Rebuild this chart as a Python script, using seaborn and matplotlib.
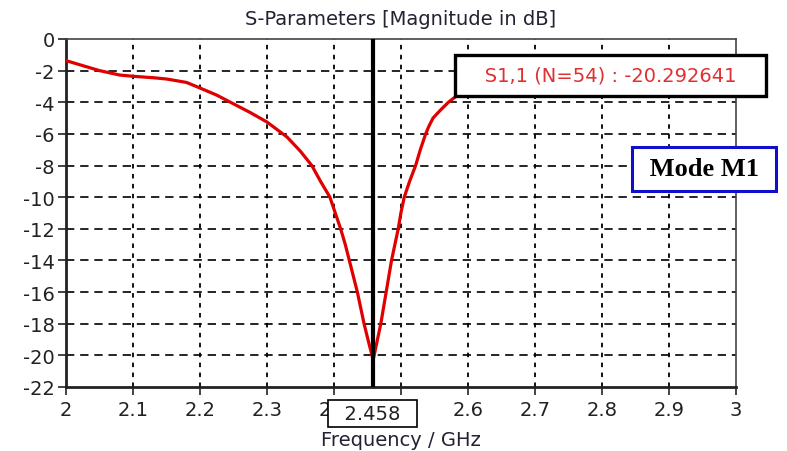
import matplotlib
matplotlib.use("Agg")
import matplotlib.pyplot as plt
import numpy as np
import pandas as pd
import seaborn as sns

# S11 curve (GHz, dB)
freq = [2.00, 2.03, 2.05, 2.08, 2.10, 2.13, 2.15, 2.18, 2.20, 2.225, 2.25, 2.275,
        2.30, 2.33, 2.35, 2.367, 2.38, 2.394, 2.402, 2.41, 2.417, 2.423, 2.429,
        2.435, 2.44, 2.445, 2.452, 2.4586,
        2.465, 2.470, 2.474, 2.478, 2.482, 2.486, 2.491, 2.496, 2.500, 2.505,
        2.513, 2.522, 2.529, 2.537, 2.542, 2.548, 2.559, 2.571, 2.58,
        2.60, 2.65, 2.70, 2.80, 2.90, 3.00]
s11 = [-1.37, -1.75, -2.0, -2.28, -2.36, -2.45, -2.53, -2.75, -3.1, -3.55, -4.1, -4.65,
       -5.25, -6.2, -7.1, -8.0, -9.0, -10.0, -11.0, -12.0, -13.0, -14.0, -15.0,
       -16.0, -17.0, -18.0, -19.2, -20.29,
       -19.0, -18.0, -17.0, -16.0, -15.0, -14.0, -13.0, -12.0, -11.0, -10.0,
       -9.0, -8.0, -7.0, -6.0, -5.5, -5.0, -4.5, -4.0, -3.7,
       -3.2, -2.6, -2.1, -1.7, -1.45, -1.35]

marker_f = 2.458
marker_label = "2.458"
marker_text = "S1,1 (N=54) : -20.292641"
mode_text = "Mode M1"
x_ticks = [2.0, 2.1, 2.2, 2.3, 2.4, 2.5, 2.6, 2.7, 2.8, 2.9, 3.0]
y_ticks = [0, -2, -4, -6, -8, -10, -12, -14, -16, -18, -20, -22]

sns.set_style("white")
plt.rcParams['font.family'] = ['DejaVu Sans']
plt.rcParams['axes.unicode_minus'] = False

df = pd.DataFrame({"freq": freq, "s11": s11})

fig = plt.figure(figsize=(7.87, 4.52), dpi=100)
ax = fig.add_axes([0.0839, 0.1416, 0.851, 0.770])

sns.lineplot(data=df, x="freq", y="s11", color="#e00000", linewidth=2.3,
             estimator=None, ax=ax, zorder=3)

ax.set_xlim(2.0, 3.0)
ax.set_ylim(-22, 0)
ax.set_xticks(x_ticks)
ax.set_yticks(y_ticks)
ax.set_xticklabels([f"{v:g}" for v in x_ticks])
ax.set_yticklabels([str(v) for v in y_ticks])
ax.tick_params(axis="both", labelsize=14, colors="#222222", direction="out",
               length=6, width=1.2, bottom=True, left=True)
ax.tick_params(axis="y", pad=2)

for f in x_ticks[1:-1]:
    ax.axvline(f, color="black", linestyle=(0, (2.5, 3)), linewidth=1.3, zorder=1)
for v in y_ticks[1:-1]:
    ax.axhline(v, color="black", linestyle=(0, (5, 3.5)), linewidth=1.2, zorder=1)

for side in ["left", "bottom"]:
    ax.spines[side].set_color("#222222")
    ax.spines[side].set_linewidth(2)
for side in ["top", "right"]:
    ax.spines[side].set_color("#444444")
    ax.spines[side].set_linewidth(1.2)

# marker line
ax.axvline(marker_f, color="black", linewidth=3, zorder=4)

ax.set_title("S-Parameters [Magnitude in dB]", fontsize=14, color="#222233", pad=11)
ax.set_xlabel("Frequency / GHz", fontsize=14, color="#222233", labelpad=8)
ax.set_ylabel("")

# marker x label box
ax.text(marker_f, -0.076, "  " + marker_label + "  ", transform=ax.get_xaxis_transform(),
        ha="center", va="center", fontsize=14, color="#222222", zorder=6,
        bbox=dict(boxstyle="square,pad=0.2", fc="white", ec="black", lw=1.2),
        clip_on=False)

# marker value box
ax.text(2.8134, -2.3, "   " + marker_text + "   ", ha="center", va="center", fontsize=14,
        color="#e03030", zorder=6, clip_on=False,
        bbox=dict(boxstyle="square,pad=0.55", fc="white", ec="black", lw=2.4))

# mode label
fig.text(0.8945, 0.6239, " " + mode_text + " ", ha="center", va="center", fontsize=19,
         fontweight="bold", family=["Liberation Serif"], color="black",
         bbox=dict(boxstyle="square,pad=0.4", fc="white", ec="#1010cc", lw=2.2))

fig.savefig("out.png", dpi=100)
